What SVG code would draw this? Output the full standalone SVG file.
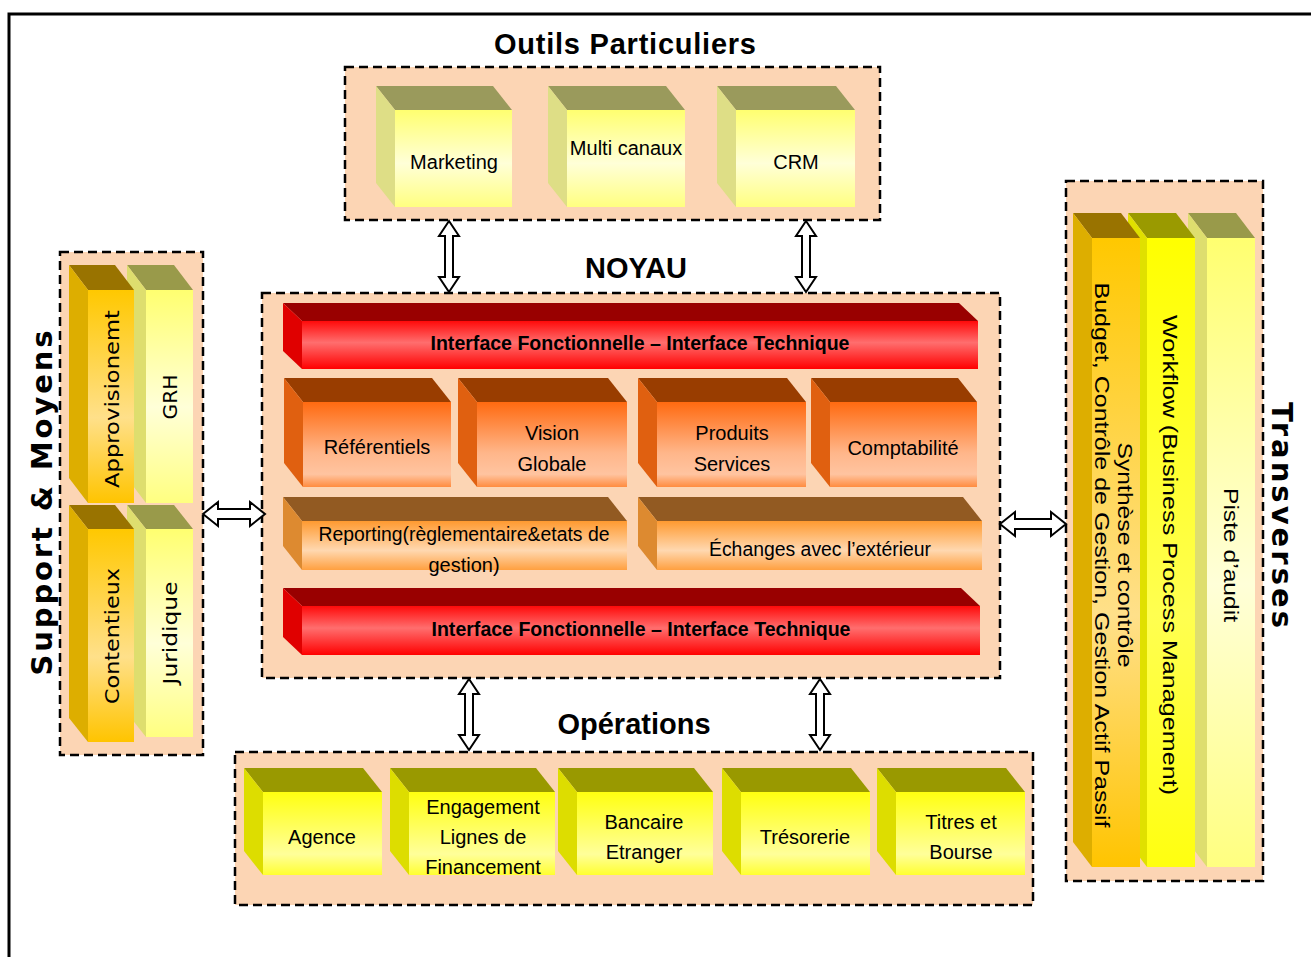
<svg xmlns="http://www.w3.org/2000/svg" width="1311" height="957" viewBox="0 0 1311 957">
<defs>
<linearGradient id="gPale" x1="0" y1="0" x2="0" y2="1">
<stop offset="0" stop-color="#FFFF70"/><stop offset="0.55" stop-color="#FFFFD8"/><stop offset="1" stop-color="#FFFF80"/>
</linearGradient>
<linearGradient id="gYel" x1="0" y1="0" x2="0" y2="1">
<stop offset="0" stop-color="#FFFF10"/><stop offset="0.75" stop-color="#FFFF9A"/><stop offset="1" stop-color="#FFFF30"/>
</linearGradient>
<linearGradient id="gYelTall" x1="0" y1="0" x2="0" y2="1">
<stop offset="0" stop-color="#FFFF00"/><stop offset="0.6" stop-color="#FFFF50"/><stop offset="1" stop-color="#FFFF10"/>
</linearGradient>
<linearGradient id="gGold" x1="0" y1="0" x2="0" y2="1">
<stop offset="0" stop-color="#FFC800"/><stop offset="0.6" stop-color="#FFE08A"/><stop offset="1" stop-color="#FFC400"/>
</linearGradient>
<linearGradient id="gRed" x1="0" y1="0" x2="0" y2="1">
<stop offset="0" stop-color="#FF0A0A"/><stop offset="0.45" stop-color="#FF6E6E"/><stop offset="1" stop-color="#FF0000"/>
</linearGradient>
<linearGradient id="gOr" x1="0" y1="0" x2="0" y2="1">
<stop offset="0" stop-color="#FF6A10"/><stop offset="0.6" stop-color="#FFB68A"/><stop offset="0.85" stop-color="#FFC4A0"/><stop offset="1" stop-color="#FF8C40"/>
</linearGradient>
<linearGradient id="gLOr" x1="0" y1="0" x2="0" y2="1">
<stop offset="0" stop-color="#FF9A30"/><stop offset="0.6" stop-color="#FFD8B0"/><stop offset="1" stop-color="#FFA040"/>
</linearGradient>
<style>
.cont{fill:#FCD5B4;stroke:#000;stroke-width:2.5;stroke-dasharray:9 5}
.arr{fill:#fff;stroke:#000;stroke-width:2}
.t{font-family:"Liberation Sans",Arial,sans-serif;font-size:20px;fill:#000;text-anchor:middle}
.tb{font-family:"Liberation Sans",Arial,sans-serif;font-size:20px;font-weight:bold;fill:#000;text-anchor:middle}
.title{font-family:"Liberation Sans",Arial,sans-serif;font-size:29px;font-weight:bold;fill:#000;text-anchor:middle}
.vt{font-family:"DejaVu Sans",Verdana,sans-serif;font-size:19px;fill:#000;text-anchor:middle;dominant-baseline:central}
.vr{font-family:"Liberation Sans",Arial,sans-serif;font-size:21px;fill:#000;text-anchor:middle;dominant-baseline:central}
.vtitle{font-family:"DejaVu Sans",Verdana,sans-serif;font-size:29px;font-weight:bold;fill:#000;text-anchor:middle;dominant-baseline:central}
.topO{fill:#9A9A5C}.sideO{fill:#DEDE86}
.topG{fill:#997300}.sideG{fill:#DDAE00}
.topP{fill:#999A4A}.sideP{fill:#DEDE6E}
.topR{fill:#990000}.sideR{fill:#E00000}
.topOr{fill:#993D00}.sideOr{fill:#E06010}
.topL{fill:#925A22}.sideL{fill:#DD8A30}
.topY{fill:#999900}.sideY{fill:#DDDD00}
.topW{fill:#9A9A00}.sideW{fill:#E0E000}
</style>
</defs>
<rect width="1311" height="957" fill="#fff"/>
<path d="M9,957 V14 H1311" fill="none" stroke="#000" stroke-width="3"/>

<!-- Outils Particuliers -->
<g id="outils">
<rect class="cont" x="345" y="67" width="535" height="153"/>
<text class="title" x="625" y="54" textLength="262">Outils Particuliers</text>
</g>
<g id="marketing">
<polygon class="topO" points="376,86 493,86 512,110 395,110"/>
<polygon class="sideO" points="376,86 395,110 395,207 376,183"/>
<rect x="395" y="110" width="117" height="97" fill="url(#gPale)"/>
<text class="t" x="454" y="169">Marketing</text>
</g>
<g id="multicanaux">
<polygon class="topO" points="548,86 666,86 685,110 567,110"/>
<polygon class="sideO" points="548,86 567,110 567,207 548,183"/>
<rect x="567" y="110" width="118" height="97" fill="url(#gPale)"/>
<text class="t" x="626" y="155">Multi canaux</text>
</g>
<g id="crm">
<polygon class="topO" points="717,86 836,86 855,110 736,110"/>
<polygon class="sideO" points="717,86 736,110 736,207 717,183"/>
<rect x="736" y="110" width="119" height="97" fill="url(#gPale)"/>
<text class="t" x="796" y="169">CRM</text>
</g>

<!-- Noyau -->
<g id="noyau">
<rect class="cont" x="262" y="293" width="738" height="385"/>
<text class="title" x="636" y="278" font-size="28">NOYAU</text>
</g>
<g id="interface-haut">
<polygon class="topR" points="283,303 959,303 978,321 302,321"/>
<polygon class="sideR" points="283,303 302,321 302,369 283,351"/>
<rect x="302" y="321" width="676" height="48" fill="url(#gRed)"/>
<text class="tb" x="640" y="350" textLength="419" lengthAdjust="spacingAndGlyphs">Interface Fonctionnelle – Interface Technique</text>
</g>
<g id="referentiels">
<polygon class="topOr" points="284,378 432,378 451,402 303,402"/>
<polygon class="sideOr" points="284,378 303,402 303,487 284,463"/>
<rect x="303" y="402" width="148" height="85" fill="url(#gOr)"/>
<text class="t" x="377" y="454">Référentiels</text>
</g>
<g id="vision">
<polygon class="topOr" points="458,378 608,378 627,402 477,402"/>
<polygon class="sideOr" points="458,378 477,402 477,487 458,463"/>
<rect x="477" y="402" width="150" height="85" fill="url(#gOr)"/>
<text class="t" x="552" y="440">Vision</text>
<text class="t" x="552" y="471">Globale</text>
</g>
<g id="produits">
<polygon class="topOr" points="638,378 787,378 806,402 657,402"/>
<polygon class="sideOr" points="638,378 657,402 657,487 638,463"/>
<rect x="657" y="402" width="149" height="85" fill="url(#gOr)"/>
<text class="t" x="732" y="440">Produits</text>
<text class="t" x="732" y="471">Services</text>
</g>
<g id="comptabilite">
<polygon class="topOr" points="811,378 958,378 977,402 830,402"/>
<polygon class="sideOr" points="811,378 830,402 830,487 811,463"/>
<rect x="830" y="402" width="147" height="85" fill="url(#gOr)"/>
<text class="t" x="903" y="455">Comptabilité</text>
</g>
<g id="reporting">
<polygon class="topL" points="283,497 608,497 627,521 302,521"/>
<polygon class="sideL" points="283,497 302,521 302,570 283,546"/>
<rect x="302" y="521" width="325" height="49" fill="url(#gLOr)"/>
<text class="t" x="464" y="541" textLength="291" lengthAdjust="spacingAndGlyphs">Reporting(règlementaire&amp;etats de</text>
<text class="t" x="464" y="572">gestion)</text>
</g>
<g id="echanges">
<polygon class="topL" points="638,497 963,497 982,521 657,521"/>
<polygon class="sideL" points="638,497 657,521 657,570 638,546"/>
<rect x="657" y="521" width="325" height="49" fill="url(#gLOr)"/>
<text class="t" x="820" y="556" textLength="222" lengthAdjust="spacingAndGlyphs">Échanges avec l’extérieur</text>
</g>
<g id="interface-bas">
<polygon class="topR" points="283,588 961,588 980,606 302,606"/>
<polygon class="sideR" points="283,588 302,606 302,655 283,637"/>
<rect x="302" y="606" width="678" height="49" fill="url(#gRed)"/>
<text class="tb" x="641" y="636" textLength="419" lengthAdjust="spacingAndGlyphs">Interface Fonctionnelle – Interface Technique</text>
</g>

<!-- Support & Moyens -->
<g id="support">
<rect class="cont" x="60" y="252" width="143" height="503"/>
<text class="vtitle" transform="translate(42,503) rotate(-90)" textLength="345">Support &amp; Moyens</text>
</g>
<g id="grh">
<polygon class="topP" points="127,265 174,265 193,290 146,290"/>
<polygon class="sideP" points="127,265 146,290 146,503 127,478"/>
<rect x="146" y="290" width="47" height="213" fill="url(#gPale)"/>
<text class="vt" transform="translate(170,397) rotate(-90)" textLength="45" lengthAdjust="spacingAndGlyphs">GRH</text>
</g>
<g id="approvisionemt">
<polygon class="topG" points="69,265 115,265 134,290 88,290"/>
<polygon class="sideG" points="69,265 88,290 88,503 69,478"/>
<rect x="88" y="290" width="46" height="213" fill="url(#gGold)"/>
<text class="vt" transform="translate(112,399) rotate(-90)" textLength="178" lengthAdjust="spacingAndGlyphs">Approvisionemt</text>
</g>
<g id="juridique">
<polygon class="topP" points="127,505 174,505 193,529 146,529"/>
<polygon class="sideP" points="127,505 146,529 146,737 127,713"/>
<rect x="146" y="529" width="47" height="208" fill="url(#gPale)"/>
<text class="vt" transform="translate(170,633) rotate(-90)" textLength="103" lengthAdjust="spacingAndGlyphs">Juridique</text>
</g>
<g id="contentieux">
<polygon class="topG" points="69,505 115,505 134,529 88,529"/>
<polygon class="sideG" points="69,505 88,529 88,742 69,718"/>
<rect x="88" y="529" width="46" height="213" fill="url(#gGold)"/>
<text class="vt" transform="translate(112,636) rotate(-90)" textLength="136" lengthAdjust="spacingAndGlyphs">Contentieux</text>
</g>

<!-- Transverses -->
<g id="transverses">
<rect class="cont" x="1066" y="181" width="197" height="700"/>
<text class="vtitle" transform="translate(1282,515) rotate(90)" textLength="226">Transverses</text>
</g>
<g id="piste">
<polygon class="topP" points="1188,213 1236,213 1255,238 1207,238"/>
<polygon class="sideP" points="1188,213 1207,238 1207,867 1188,842"/>
<rect x="1207" y="238" width="48" height="629" fill="url(#gPale)"/>
<text class="vr" transform="translate(1231,555) rotate(90)" textLength="134" lengthAdjust="spacingAndGlyphs">Piste d’audit</text>
</g>
<g id="workflow">
<polygon class="topW" points="1128,213 1176,213 1195,238 1147,238"/>
<polygon class="sideW" points="1128,213 1147,238 1147,867 1128,842"/>
<rect x="1147" y="238" width="48" height="629" fill="url(#gYelTall)"/>
<text class="vr" transform="translate(1170,555) rotate(90)" textLength="480" lengthAdjust="spacingAndGlyphs">Workflow (Business Process Management)</text>
</g>
<g id="budget">
<polygon class="topG" points="1073,213 1121,213 1140,238 1092,238"/>
<polygon class="sideG" points="1073,213 1092,238 1092,867 1073,842"/>
<rect x="1092" y="238" width="48" height="629" fill="url(#gGold)"/>
<text class="vr" transform="translate(1125,555) rotate(90)" textLength="225" lengthAdjust="spacingAndGlyphs">Synthèse et contrôle</text>
<text class="vr" transform="translate(1102,555) rotate(90)" textLength="545" lengthAdjust="spacingAndGlyphs">Budget, Contrôle de Gestion, Gestion Actif Passif</text>
</g>

<!-- Opérations -->
<g id="operations">
<rect class="cont" x="235" y="752" width="798" height="153"/>
<text class="title" x="634" y="734" font-size="30">Opérations</text>
</g>
<g id="agence">
<polygon class="topY" points="244,768 363,768 382,792 263,792"/>
<polygon class="sideY" points="244,768 263,792 263,875 244,851"/>
<rect x="263" y="792" width="119" height="83" fill="url(#gYel)"/>
<text class="t" x="322" y="844">Agence</text>
</g>
<g id="engagement">
<polygon class="topY" points="390,768 536,768 555,792 409,792"/>
<polygon class="sideY" points="390,768 409,792 409,875 390,851"/>
<rect x="409" y="792" width="146" height="83" fill="url(#gYel)"/>
<text class="t" x="483" y="814">Engagement</text>
<text class="t" x="483" y="844">Lignes de</text>
<text class="t" x="483" y="874">Financement</text>
</g>
<g id="bancaire">
<polygon class="topY" points="558,768 694,768 713,792 577,792"/>
<polygon class="sideY" points="558,768 577,792 577,875 558,851"/>
<rect x="577" y="792" width="136" height="83" fill="url(#gYel)"/>
<text class="t" x="644" y="829">Bancaire</text>
<text class="t" x="644" y="859">Etranger</text>
</g>
<g id="tresorerie">
<polygon class="topY" points="722,768 851,768 870,792 741,792"/>
<polygon class="sideY" points="722,768 741,792 741,875 722,851"/>
<rect x="741" y="792" width="129" height="83" fill="url(#gYel)"/>
<text class="t" x="805" y="844">Trésorerie</text>
</g>
<g id="titres">
<polygon class="topY" points="877,768 1006,768 1025,792 896,792"/>
<polygon class="sideY" points="877,768 896,792 896,875 877,851"/>
<rect x="896" y="792" width="129" height="83" fill="url(#gYel)"/>
<text class="t" x="961" y="829">Titres et</text>
<text class="t" x="961" y="859">Bourse</text>
</g>

<!-- Connectors -->
<g id="connectors">
<path class="arr" d="M449,221 L459,236 L453,236 L453,277 L459,277 L449,292 L439,277 L445,277 L445,236 L439,236 Z"/>
<path class="arr" d="M806,221 L816,236 L810,236 L810,277 L816,277 L806,292 L796,277 L802,277 L802,236 L796,236 Z"/>
<path class="arr" d="M469,679 L479,694 L473,694 L473,735 L479,735 L469,750 L459,735 L465,735 L465,694 L459,694 Z"/>
<path class="arr" d="M820,679 L830,694 L824,694 L824,735 L830,735 L820,750 L810,735 L816,735 L816,694 L810,694 Z"/>
<path class="arr" d="M203,514 L218,502 L218,509 L250,509 L250,502 L265,514 L250,526 L250,519 L218,519 L218,526 Z"/>
<path class="arr" d="M1000,524 L1015,512 L1015,519 L1051,519 L1051,512 L1066,524 L1051,536 L1051,529 L1015,529 L1015,536 Z"/>
</g>
</svg>
